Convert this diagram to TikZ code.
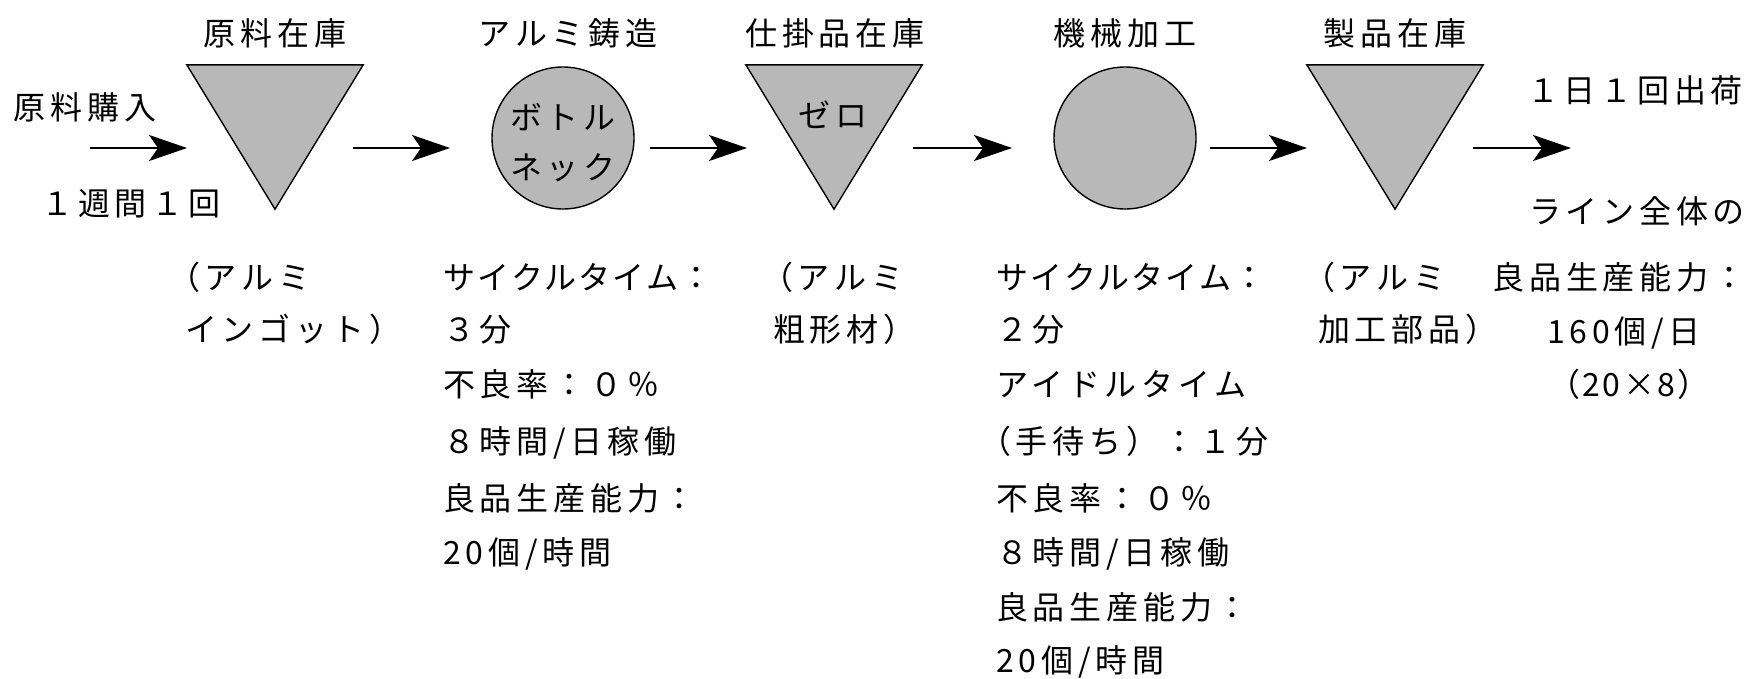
\documentclass[tikz,border=0pt]{standalone}
\usepackage{fontspec}
\setmainfont{Noto Sans CJK JP}
\usetikzlibrary{arrows.meta}
\definecolor{shade}{gray}{0.72}
\newcommand\jpfont{\fontsize{32}{38}\selectfont\addfontfeature{LetterSpace=15}}
\newcommand\jptight{\addfontfeature{LetterSpace=7}}
\begin{document}
\begin{tikzpicture}[x=1pt,y=-1pt,
  txt/.style={inner sep=0pt, font=\jpfont, text height=28pt, text depth=4pt},
  col/.style={txt, anchor=west},
  tight/.append style={font=\jpfont\jptight},
  stock/.style={draw=black, line width=1.4pt, fill=shade, line join=miter},
  proc/.style={circle, draw=black, line width=1.4pt, fill=shade, minimum size=142pt, inner sep=0pt},
  frame/.style={inner sep=0pt, minimum width=176pt, minimum height=144pt},
  flow/.style={line width=1.8pt, -{Stealth[length=38pt,width=26pt,inset=9pt]}}
]
\useasboundingbox[fill=white] (0,0) rectangle (1758,678);

% shapes
\node[frame] (t1) at (275,137) {};
\node[proc]  (c1) at (563,138) {};
\node[frame] (t2) at (834,137) {};
\node[proc]  (c2) at (1125,138) {};
\node[frame] (t3) at (1395,137) {};
\path[stock] (t1.north west) -- (t1.north east) -- (t1.south) -- cycle;
\path[stock] (t2.north west) -- (t2.north east) -- (t2.south) -- cycle;
\path[stock] (t3.north west) -- (t3.north east) -- (t3.south) -- cycle;

% inner labels
\node[txt] (bn1) at (563,117) {ボトル};
\node[txt] (bn2) at (563,167) {ネック};
\node[txt] (zero) at (833,115) {ゼロ};

% headings
\node[txt] (h1) at (275,33) {原料在庫};
\node[txt] (h2) at (568,33) {アルミ鋳造};
\node[txt] (h3) at (835,33) {仕掛品在庫};
\node[txt] (h4) at (1125,33) {機械加工};
\node[txt] (h5) at (1395,33) {製品在庫};

% arrows
\coordinate (a1s) at (90,148);   \coordinate (a1e) at (187,148);
\coordinate (a2s) at (353,148);  \coordinate (a2e) at (450,148);
\coordinate (a3s) at (650,148);  \coordinate (a3e) at (747,148);
\coordinate (a4s) at (913,148);  \coordinate (a4e) at (1012,148);
\coordinate (a5s) at (1210,148); \coordinate (a5e) at (1307,148);
\coordinate (a6s) at (1473,148); \coordinate (a6e) at (1571,148);
\draw[flow] (a1s) -- (a1e);
\draw[flow] (a2s) -- (a2e);
\draw[flow] (a3s) -- (a3e);
\draw[flow] (a4s) -- (a4e);
\draw[flow] (a5s) -- (a5e);
\draw[flow] (a6s) -- (a6e);

% left / right labels
\node[txt] (src) at (85,107) {原料購入};
\node[txt] (freq) at (131,203) {１週間１回};
\node[txt] (ship) at (1635,90) {１日１回出荷};
\node[txt] (r1) at (1637,211) {ライン全体の};
\node[txt] (r2) at (1619,277) {良品生産能力：};
\node[txt] (r3) at (1624,331) {160個/日};
\node[txt, tight] (r4) at (1629,384) {（20×8）};

% column A
\node[col] (a1) at (168,277) {（アルミ};
\node[col] (a2) at (185,329) {インゴット）};
% column B
\node[col, tight] (b1) at (443,277) {サイクルタイム：};
\node[col] (b2) at (443,329) {３分};
\node[col] (b3) at (443,384) {不良率：０％};
\node[col] (b4) at (443,441) {８時間/日稼働};
\node[col] (b5) at (443,498) {良品生産能力：};
\node[col] (b6) at (443,552) {20個/時間};
% column C
\node[col] (cc1) at (761,277) {（アルミ};
\node[col] (cc2) at (773,329) {粗形材）};
% column D
\node[col, tight] (d1) at (996,277) {サイクルタイム：};
\node[col] (d2) at (996,329) {２分};
\node[col] (d3) at (996,384) {アイドルタイム};
\node[col] (d4) at (979,441) {（手待ち）：１分};
\node[col] (d5) at (996,498) {不良率：０％};
\node[col] (d6) at (996,552) {８時間/日稼働};
\node[col] (d7) at (996,607) {良品生産能力：};
\node[col] (d8) at (996,660) {20個/時間};
% column E
\node[col] (e1) at (1303,277) {（アルミ};
\node[col] (e2) at (1318,329) {加工部品）};
\end{tikzpicture}
\end{document}
